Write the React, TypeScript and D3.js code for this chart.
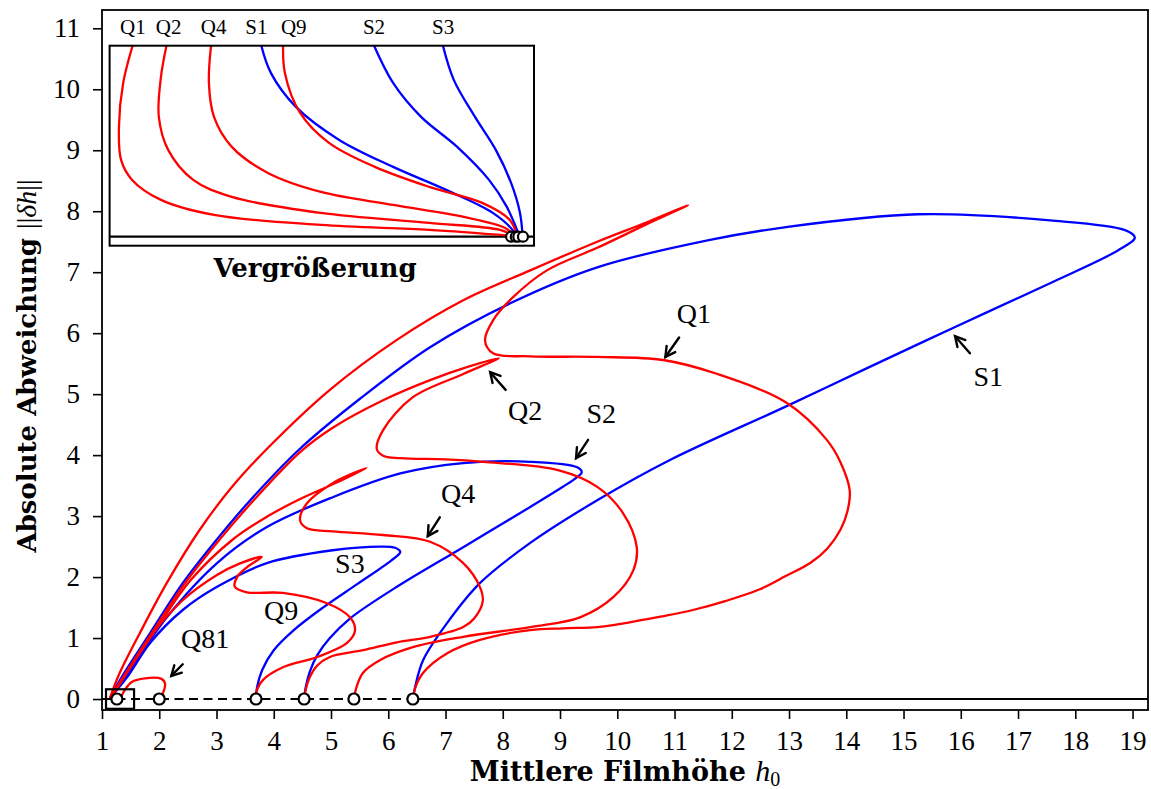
import React, { useRef, useEffect } from 'react';
import * as d3 from 'd3';

type Pt = [number, number];

// axis ticks
const xTicks = [1, 2, 3, 4, 5, 6, 7, 8, 9, 10, 11, 12, 13, 14, 15, 16, 17, 18, 19];
const yTicks = [0, 1, 2, 3, 4, 5, 6, 7, 8, 9, 10, 11];

// trivial branch (||dh|| = 0) with bifurcation points
const bifurcationH0 = [1.26, 2.0, 3.69, 4.53, 5.4, 6.43];
const stableFromH0 = 6.43;
const zoomBoxH0 = [1.07, 1.56];
const zoomBoxDev = [-0.16, 0.16];

// symmetric branches (blue)
const branchS1: Pt[] = [
  [1.14, 0.02], [1.37, 0.4], [1.84, 1.08], [2.41, 1.9], [3.0, 2.61], [3.59, 3.26], [4.43, 4.08],
  [5.5, 4.92], [6.73, 5.77], [8.13, 6.49], [9.65, 7.08], [11.62, 7.53], [12.95, 7.74],
  [15.25, 7.95], [17.56, 7.85], [18.87, 7.69], [19.04, 7.57], [18.75, 7.36], [17.56, 6.82],
  [15.92, 6.11], [14.28, 5.39], [12.95, 4.8], [10.92, 3.92], [9.65, 3.26],
  [8.48, 2.56], [7.6, 1.9], [7.03, 1.25], [6.61, 0.64], [6.47, 0.2], [6.43, 0],
];
const branchS2: Pt[] = [
  [1.16, 0.02], [1.54, 0.55], [2.14, 1.35], [3.01, 2.23], [3.88, 2.82], [5.03, 3.31], [6.21, 3.7],
  [7.31, 3.87], [8.48, 3.89], [9.3, 3.8], [9.38, 3.72], [9.3, 3.64], [9.05, 3.48], [8.48, 3.15],
  [7.31, 2.49], [6.15, 1.84], [5.33, 1.32], [4.98, 1.0], [4.76, 0.72], [4.63, 0.45], [4.56, 0.2],
  [4.53, 0],
];
const branchS3: Pt[] = [
  [1.14, 0.02], [1.44, 0.36], [1.84, 0.92], [2.41, 1.46], [3.01, 1.84], [3.88, 2.23], [5.03, 2.44],
  [5.86, 2.5], [6.12, 2.48], [6.21, 2.41], [6.05, 2.27], [5.45, 1.88], [4.86, 1.5], [4.35, 1.13],
  [4.0, 0.8], [3.8, 0.48], [3.71, 0.2], [3.69, 0],
];

// asymmetric branches (red)
const branchQ1: Pt[] = [
  [1.14, 0.02], [1.31, 0.43], [1.66, 1.08], [2.13, 1.9], [2.71, 2.78], [3.29, 3.5], [3.9, 4.12],
  [4.98, 5.07], [6.15, 5.89], [7.31, 6.54], [8.48, 7.03], [9.65, 7.5], [10.52, 7.82], [11.24, 8.1],
  [10.5, 7.78], [9.65, 7.4], [8.77, 7.03], [8.18, 6.59], [7.83, 6.21], [7.69, 5.88], [7.83, 5.67],
  [8.48, 5.62], [9.65, 5.61], [10.8, 5.56], [11.75, 5.33], [12.97, 4.85], [13.66, 4.25],
  [13.9, 3.88], [14.06, 3.42], [14.02, 3.08], [13.9, 2.78], [13.67, 2.47], [13.37, 2.23],
  [12.95, 2.02], [12.49, 1.8], [11.9, 1.61], [11.32, 1.46], [10.75, 1.35], [10.17, 1.25],
  [9.65, 1.18], [9.05, 1.16], [8.48, 1.13], [7.6, 0.97], [7.03, 0.75], [6.61, 0.43],
  [6.47, 0.18], [6.43, 0],
];
const branchQ2: Pt[] = [
  [1.15, 0.02], [1.4, 0.4], [1.87, 1.08], [2.45, 1.9], [3.05, 2.61], [3.65, 3.26], [4.46, 4.05],
  [5.03, 4.45], [5.91, 4.9], [6.73, 5.23], [7.4, 5.45], [7.93, 5.59], [7.31, 5.33], [6.43, 4.95],
  [5.91, 4.41], [5.8, 4.1], [5.91, 3.99], [6.21, 3.95], [7.0, 3.93], [7.66, 3.89], [8.98, 3.75],
  [9.65, 3.48], [10.1, 3.05], [10.34, 2.49], [10.28, 2.11], [9.93, 1.67], [9.35, 1.34],
  [8.48, 1.18], [7.31, 1.02], [6.43, 0.85], [5.86, 0.64], [5.56, 0.43], [5.44, 0.18], [5.4, 0],
];
const branchQ4: Pt[] = [
  [1.16, 0.02], [1.45, 0.45], [1.95, 1.15], [2.55, 1.95], [3.29, 2.62], [3.9, 3.0], [4.46, 3.28],
  [5.1, 3.55], [5.62, 3.79], [5.03, 3.54], [4.58, 3.21], [4.46, 2.93], [4.58, 2.8], [5.03, 2.75],
  [5.91, 2.69], [6.73, 2.58], [7.31, 2.23], [7.6, 1.84], [7.65, 1.6], [7.5, 1.32], [7.31, 1.18],
  [6.73, 1.02], [6.15, 0.93], [5.56, 0.8], [4.98, 0.69], [4.76, 0.55], [4.63, 0.36],
  [4.55, 0.12], [4.53, 0],
];
const branchQ9: Pt[] = [
  [1.14, 0.02], [1.44, 0.45], [1.84, 1.02], [2.41, 1.62], [3.0, 2.03], [3.4, 2.22], [3.79, 2.33],
  [3.53, 2.16], [3.36, 2.0], [3.32, 1.84], [3.53, 1.75], [4.16, 1.74], [4.93, 1.57], [5.33, 1.34],
  [5.42, 1.13], [5.28, 0.92], [4.76, 0.69], [4.16, 0.52], [3.81, 0.31], [3.69, 0.1], [3.68, 0],
];
const branchQ81: Pt[] = [
  [1.3, 0], [1.34, 0.05], [1.4, 0.15], [1.52, 0.28], [1.75, 0.34], [2.04, 0.33], [2.1, 0.26],
  [2.07, 0.11], [2.0, 0],
];

// labels with arrows: text position, arrow tail, arrow head (data coords)
const annotations = [
  { label: 'Q1', text: [11.34, 6.33], tail: [11.08, 5.93], head: [10.84, 5.61] },
  { label: 'S1', text: [16.48, 5.3], tail: [16.16, 5.67], head: [15.9, 5.95] },
  { label: 'Q2', text: [8.39, 4.74], tail: [8.05, 5.07], head: [7.78, 5.36] },
  { label: 'S2', text: [9.72, 4.69], tail: [9.49, 4.25], head: [9.28, 3.95] },
  { label: 'Q4', text: [7.22, 3.38], tail: [6.9, 2.98], head: [6.69, 2.67] },
  { label: 'S3', text: [5.33, 2.23], tail: null, head: null },
  { label: 'Q9', text: [4.13, 1.46], tail: null, head: null },
  { label: 'Q81', text: [2.8, 1.0], tail: [2.41, 0.57], head: [2.21, 0.38] },
];

// magnified view near the end point (normalised inset coordinates)
const insetLabels = ['Q1', 'Q2', 'Q4', 'S1', 'Q9', 'S2', 'S3'];
const insetLabelU = [0.055, 0.139, 0.245, 0.346, 0.434, 0.623, 0.786];
const insetCircleU = [0.946, 0.957, 0.963, 0.974];
const insetBaseV = 0.045;
const insetQ1: Pt[] = [[0.057, 1.02], [0.032, 0.814], [0.022, 0.594], [0.027, 0.429], [0.053, 0.329], [0.121, 0.229], [0.246, 0.154], [0.498, 0.104], [0.753, 0.079], [0.944, 0.05]];
const insetQ2: Pt[] = [[0.136, 1.02], [0.121, 0.844], [0.116, 0.644], [0.138, 0.479], [0.197, 0.329], [0.288, 0.244], [0.498, 0.164], [0.753, 0.114], [0.92, 0.079], [0.95, 0.05]];
const insetQ4: Pt[] = [[0.24, 1.02], [0.234, 0.814], [0.246, 0.644], [0.288, 0.494], [0.373, 0.364], [0.498, 0.269], [0.668, 0.204], [0.835, 0.144], [0.932, 0.089], [0.953, 0.05]];
const insetS1: Pt[] = [[0.355, 1.02], [0.38, 0.864], [0.439, 0.694], [0.541, 0.529], [0.668, 0.394], [0.793, 0.279], [0.903, 0.164], [0.953, 0.069], [0.957, 0.05]];
const insetQ9: Pt[] = [[0.409, 1.02], [0.413, 0.864], [0.449, 0.664], [0.517, 0.514], [0.625, 0.394], [0.753, 0.294], [0.878, 0.214], [0.943, 0.129], [0.96, 0.05]];
const insetS2: Pt[] = [[0.619, 1.02], [0.668, 0.814], [0.734, 0.644], [0.819, 0.494], [0.894, 0.329], [0.936, 0.194], [0.958, 0.089], [0.965, 0.05]];
const insetS3: Pt[] = [[0.783, 1.02], [0.811, 0.829], [0.861, 0.644], [0.91, 0.479], [0.946, 0.314], [0.967, 0.164], [0.973, 0.05]];

const RED = '#ff0000';
const BLUE = '#0000ff';
const serif = "'Liberation Serif', 'Times New Roman', serif";
const boldSerif = "'DejaVu Serif', serif";

const W = 1151;
const H = 789;
const plot = { left: 102, top: 10, right: 1148, bottom: 710 };
const inset = { left: 109.6, top: 45.7, width: 424.4, height: 200 };

export default function App() {
  const svgRef = useRef<SVGSVGElement>(null);

  useEffect(() => {
    if (!svgRef.current) return;
    const svg = d3.select(svgRef.current);
    svg.selectAll('*').remove();

    const x = d3.scaleLinear().domain([1, 19.27]).range([plot.left, plot.right]);
    const y = d3.scaleLinear().domain([-0.18, 11.3]).range([plot.bottom, plot.top]);
    const ix = d3.scaleLinear().domain([0, 1]).range([inset.left, inset.left + inset.width]);
    const iy = d3.scaleLinear().domain([0, 1]).range([inset.top + inset.height, inset.top]);

    const defs = svg.append('defs');
    defs.append('clipPath').attr('id', 'plot-clip').append('rect')
      .attr('x', plot.left).attr('y', plot.top)
      .attr('width', plot.right - plot.left).attr('height', plot.bottom - plot.top);
    defs.append('clipPath').attr('id', 'inset-clip').append('rect')
      .attr('x', inset.left).attr('y', inset.top)
      .attr('width', inset.width).attr('height', inset.height);

    const line = d3.line<Pt>()
      .x((d) => x(d[0]))
      .y((d) => y(d[1]))
      .curve(d3.curveCatmullRom.alpha(0.5));

    const main = svg.append('g').attr('clip-path', 'url(#plot-clip)');

    const branches = [
      { pts: branchS1, color: BLUE },
      { pts: branchS2, color: BLUE },
      { pts: branchS3, color: BLUE },
      { pts: branchQ1, color: RED },
      { pts: branchQ2, color: RED },
      { pts: branchQ4, color: RED },
      { pts: branchQ9, color: RED },
      { pts: branchQ81, color: RED },
    ];
    branches.forEach((b) => {
      main.append('path')
        .attr('d', line(b.pts))
        .attr('fill', 'none')
        .attr('stroke', b.color)
        .attr('stroke-width', 2.3)
        .attr('stroke-linejoin', 'round');
    });

    // trivial branch: unstable dashed, stable solid
    main.append('line')
      .attr('x1', x(1)).attr('x2', x(stableFromH0))
      .attr('y1', y(0)).attr('y2', y(0))
      .attr('stroke', '#000').attr('stroke-width', 2.2)
      .attr('stroke-dasharray', '9,5.5');
    main.append('line')
      .attr('x1', x(stableFromH0)).attr('x2', x(19.27))
      .attr('y1', y(0)).attr('y2', y(0))
      .attr('stroke', '#000').attr('stroke-width', 2.2);

    main.append('rect')
      .attr('x', x(zoomBoxH0[0])).attr('y', y(zoomBoxDev[1]))
      .attr('width', x(zoomBoxH0[1]) - x(zoomBoxH0[0]))
      .attr('height', y(zoomBoxDev[0]) - y(zoomBoxDev[1]))
      .attr('fill', 'none').attr('stroke', '#000').attr('stroke-width', 2.2);

    main.selectAll('.bif')
      .data(bifurcationH0)
      .join('circle')
      .attr('class', 'bif')
      .attr('cx', (d) => x(d)).attr('cy', y(0)).attr('r', 5.5)
      .attr('fill', '#fff').attr('stroke', '#000').attr('stroke-width', 2.2);

    // annotations
    annotations.forEach((a) => {
      svg.append('text')
        .attr('x', x(a.text[0])).attr('y', y(a.text[1]))
        .attr('dy', '0.35em')
        .attr('text-anchor', 'middle')
        .attr('font-family', serif).attr('font-size', 28)
        .text(a.label);
      if (a.tail && a.head) {
        const tx = x(a.tail[0]), ty = y(a.tail[1]);
        const hx = x(a.head[0]), hy = y(a.head[1]);
        const ang = Math.atan2(hy - ty, hx - tx);
        const len = 11, spread = 0.5;
        const g = svg.append('g').attr('stroke', '#000').attr('stroke-width', 2.4).attr('fill', 'none')
          .attr('stroke-linecap', 'round').attr('stroke-linejoin', 'miter');
        g.append('line').attr('x1', tx).attr('y1', ty).attr('x2', hx).attr('y2', hy);
        g.append('path').attr('d',
          `M${hx + len * Math.cos(ang + Math.PI - spread)},${hy + len * Math.sin(ang + Math.PI - spread)}` +
          `L${hx},${hy}` +
          `L${hx + len * Math.cos(ang + Math.PI + spread)},${hy + len * Math.sin(ang + Math.PI + spread)}`);
      }
    });

    // inset (Vergrößerung)
    const ins = svg.append('g');
    ins.append('rect')
      .attr('x', inset.left).attr('y', inset.top)
      .attr('width', inset.width).attr('height', inset.height)
      .attr('fill', '#fff');
    const insLine = d3.line<Pt>()
      .x((d) => ix(d[0]))
      .y((d) => iy(d[1]))
      .curve(d3.curveCatmullRom.alpha(0.5));
    const insCurves = ins.append('g').attr('clip-path', 'url(#inset-clip)');
    insCurves.append('line')
      .attr('x1', ix(0)).attr('x2', ix(1))
      .attr('y1', iy(insetBaseV)).attr('y2', iy(insetBaseV))
      .attr('stroke', '#000').attr('stroke-width', 2.2);
    [
      { pts: insetS1, color: BLUE },
      { pts: insetS2, color: BLUE },
      { pts: insetS3, color: BLUE },
      { pts: insetQ1, color: RED },
      { pts: insetQ2, color: RED },
      { pts: insetQ4, color: RED },
      { pts: insetQ9, color: RED },
    ].forEach((c) => {
      insCurves.append('path')
        .attr('d', insLine(c.pts))
        .attr('fill', 'none')
        .attr('stroke', c.color)
        .attr('stroke-width', 2.3);
    });
    insCurves.selectAll('.ic')
      .data(insetCircleU)
      .join('circle')
      .attr('class', 'ic')
      .attr('cx', (d) => ix(d)).attr('cy', iy(insetBaseV)).attr('r', 5)
      .attr('fill', '#fff').attr('stroke', '#000').attr('stroke-width', 2.2);
    ins.append('rect')
      .attr('x', inset.left).attr('y', inset.top)
      .attr('width', inset.width).attr('height', inset.height)
      .attr('fill', 'none').attr('stroke', '#000').attr('stroke-width', 2);
    ins.selectAll('.il')
      .data(insetLabels)
      .join('text')
      .attr('class', 'il')
      .attr('x', (d, i) => ix(insetLabelU[i]))
      .attr('y', inset.top - 12)
      .attr('text-anchor', 'middle')
      .attr('font-family', serif).attr('font-size', 21)
      .text((d) => d);
    ins.append('text')
      .attr('x', 315)
      .attr('y', inset.top + inset.height + 31)
      .attr('text-anchor', 'middle')
      .attr('font-family', boldSerif).attr('font-weight', 'bold').attr('font-size', 26)
      .text('Vergrößerung');

    // frame
    svg.append('rect')
      .attr('x', plot.left).attr('y', plot.top)
      .attr('width', plot.right - plot.left).attr('height', plot.bottom - plot.top)
      .attr('fill', 'none').attr('stroke', '#000').attr('stroke-width', 1.8);

    // axes
    const xAxis = svg.append('g')
      .attr('transform', `translate(0,${plot.bottom})`)
      .call(d3.axisBottom(x).tickValues(xTicks).tickSize(9).tickPadding(12).tickFormat(d3.format('d')));
    xAxis.select('.domain').remove();
    xAxis.attr('font-family', serif).attr('font-size', 27);
    xAxis.selectAll('line').attr('stroke-width', 1.6);

    const yAxis = svg.append('g')
      .attr('transform', `translate(${plot.left},0)`)
      .call(d3.axisLeft(y).tickValues(yTicks).tickSize(9).tickPadding(13).tickFormat(d3.format('d')));
    yAxis.select('.domain').remove();
    yAxis.attr('font-family', serif).attr('font-size', 27);
    yAxis.selectAll('line').attr('stroke-width', 1.6);

    // axis titles
    const xl = svg.append('text')
      .attr('x', (plot.left + plot.right) / 2).attr('y', 781)
      .attr('text-anchor', 'middle')
      .attr('font-family', boldSerif).attr('font-size', 27).attr('font-weight', 'bold');
    xl.append('tspan').text('Mittlere Filmhöhe ');
    xl.append('tspan').attr('font-family', serif).attr('font-weight', 'normal').attr('font-style', 'italic')
      .attr('font-size', 30).text('h');
    xl.append('tspan').attr('font-family', serif).attr('font-weight', 'normal')
      .attr('font-size', 20).attr('dy', 5).text('0');

    const yl = svg.append('text')
      .attr('transform', `translate(36,366) rotate(-90)`)
      .attr('text-anchor', 'middle')
      .attr('font-family', boldSerif).attr('font-size', 26).attr('font-weight', 'bold');
    yl.append('tspan').text('Absolute Abweichung ');
    yl.append('tspan').attr('font-family', serif).attr('font-weight', 'normal').attr('font-size', 28).text('||');
    yl.append('tspan').attr('font-family', serif).attr('font-weight', 'normal').attr('font-style', 'italic')
      .attr('font-size', 28).text('δh');
    yl.append('tspan').attr('font-family', serif).attr('font-weight', 'normal').attr('font-size', 28).text('||');
  }, []);

  return (
    <svg
      ref={svgRef}
      width={W}
      height={H}
      style={{ position: 'absolute', left: 0, top: 0, background: '#fff' }}
    />
  );
}
